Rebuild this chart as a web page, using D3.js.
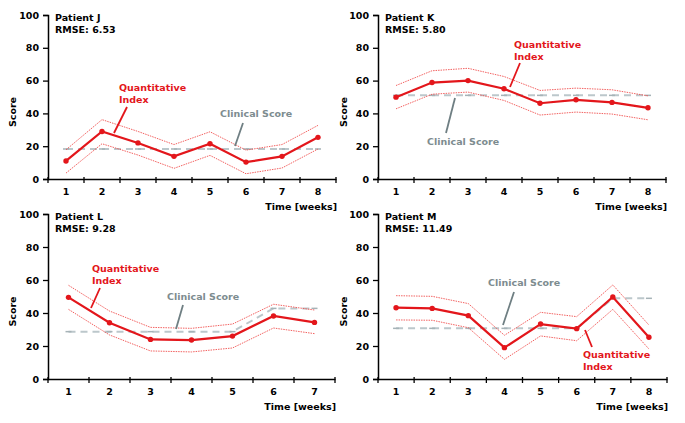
<!DOCTYPE html>
<html>
<head>
<meta charset="utf-8">
<script src="https://cdn.jsdelivr.net/npm/d3@7"></script>
<style>
  html, body { margin: 0; padding: 0; background: #fff; }
  svg { display: block; }
  text { font-family: "DejaVu Sans", Verdana, sans-serif; font-weight: bold; }
</style>
</head>
<body>
<svg id="chart" width="685" height="423"></svg>
<script>
// ---------- DATA ----------
const yTicks = [0, 20, 40, 60, 80, 100];
const weeks8 = ["1", "2", "3", "4", "5", "6", "7", "8"];
const weeks7 = ["1", "2", "3", "4", "5", "6", "7"];

const titles = ["Patient J", "Patient K", "Patient L", "Patient M"];
const rmse = ["RMSE: 6.53", "RMSE: 5.80", "RMSE: 9.28", "RMSE: 11.49"];

const qiJ = [11, 29, 22, 13.8, 21.5, 10.3, 13.8, 25.4];
const upJ = [17.8, 36.2, 29, 21, 28.8, 17.6, 21, 32.7];
const loJ = [3.6, 21.5, 14.6, 6.5, 14.4, 3.2, 6.7, 18.3];
const csJ = [18.3, 18.3, 18.3, 18.3, 18.3, 18.3, 18.3, 18.3];

const qiK = [49.9, 58.8, 60, 55, 46.2, 48.3, 46.7, 43.4];
const upK = [57, 66, 67.5, 62.5, 54, 55.4, 54.4, 50.7];
const loK = [42.8, 51.7, 53, 47.9, 39, 40.8, 39.6, 36.1];
const csK = [51, 51, 51, 51, 51, 51, 51, 51];

const qiL = [49.5, 34.1, 24, 23.6, 26, 38.2, 34.3];
const upL = [56.8, 41.2, 31.3, 30.7, 33.3, 45.3, 41.8];
const loL = [42.2, 26.7, 17, 16.4, 18.8, 30.9, 27.5];
const csL = [28.7, 28.7, 28.7, 28.7, 28.7, 42.8, 42.8];

const qiM = [43.2, 42.8, 38.4, 19, 33.3, 30.5, 49.7, 25.3];
const upM = [50.5, 50.1, 45.7, 26.5, 40.4, 37.8, 57, 32.7];
const loM = [35.8, 35.6, 31.1, 11.9, 26.1, 23.2, 42.2, 18.2];
const csM = [30.7, 30.7, 30.7, 30.7, 30.7, 30.7, 48.9, 48.9];

// ---------- LAYOUT ----------
const RED = "#e3161b";
const GRAY_TXT = "#7d8c90";
const GRAY_LINE = "#bcc7cb";
const FS = 9.5;

const panels = [
  { cats: weeks8, qi: qiJ, up: upJ, lo: loJ, cs: csJ, x0: 48, x1: 336, yT: 15, yB: 179, scoreX: 13,
    qiText: [119, 87], qiLead: [[114, 133], [127, 107]],
    csText: [220, 113], csLead: [[243, 123], [235, 146]] },
  { cats: weeks8, qi: qiK, up: upK, lo: loK, cs: csK, x0: 378, x1: 666, yT: 15, yB: 179, scoreX: 344,
    qiText: [514, 44], qiLead: [[520, 63], [510, 87]],
    csText: [427, 141], csLead: [[446, 133], [455, 98]] },
  { cats: weeks7, qi: qiL, up: upL, lo: loL, cs: csL, x0: 48, x1: 335, yT: 214, yB: 379, scoreX: 13,
    qiText: [92, 268], qiLead: [[91, 308], [100, 288]],
    csText: [167, 296], csLead: [[183, 305], [176, 329]] },
  { cats: weeks8, qi: qiM, up: upM, lo: loM, cs: csM, x0: 378, x1: 667, yT: 214, yB: 379, scoreX: 344,
    qiText: [583, 354], qiLead: [[592, 347], [585, 330]],
    csText: [488, 282], csLead: [[514, 292], [503, 325]] }
];

const svg = d3.select("#chart");

panels.forEach((p, i) => {
  const x = d3.scaleBand().domain(p.cats).range([p.x0, p.x1]);
  const y = d3.scaleLinear().domain([0, 100]).range([p.yB, p.yT]);
  const cx = d => x(d) + x.bandwidth() / 2;
  const g = svg.append("g");

  // y axis
  const ya = g.append("g").attr("transform", `translate(${p.x0},0)`)
    .call(d3.axisLeft(y).tickValues(yTicks).tickSize(5).tickPadding(4));
  ya.select(".domain").attr("stroke", "#000").attr("stroke-width", 1.5);
  ya.selectAll(".tick line").attr("stroke", "#000").attr("stroke-width", 1.3);
  ya.selectAll(".tick text").attr("font-size", FS).attr("font-weight", "bold")
    .attr("font-family", "DejaVu Sans").attr("fill", "#000");

  // x axis
  const xa = g.append("g").attr("transform", `translate(0,${p.yB})`)
    .call(d3.axisBottom(x).tickSize(0).tickPadding(9));
  xa.select(".domain").attr("stroke", "#000").attr("stroke-width", 1.5);
  xa.selectAll(".tick text").attr("font-size", FS).attr("font-weight", "bold")
    .attr("font-family", "DejaVu Sans").attr("fill", "#000");
  // band boundary ticks
  const bounds = p.cats.map(c => x(c)).concat([p.x1]);
  g.selectAll(".bt").data(bounds).enter().append("line")
    .attr("x1", d => d).attr("x2", d => d)
    .attr("y1", p.yB - 2).attr("y2", p.yB + 4)
    .attr("stroke", "#000").attr("stroke-width", 1.3);

  // axis titles
  g.append("text").attr("x", p.x1 + 1).attr("y", p.yB + 31)
    .attr("text-anchor", "end").attr("font-size", FS).text("Time [weeks]");
  g.append("text").attr("transform", `translate(${p.scoreX + 3},${(p.yT + p.yB) / 2 + 15}) rotate(-90)`)
    .attr("text-anchor", "middle").attr("font-size", FS).text("Score");

  // title
  g.append("text").attr("x", p.x0 + 7).attr("y", p.yT + 6).attr("font-size", FS).text(titles[i]);
  g.append("text").attr("x", p.x0 + 7).attr("y", p.yT + 18).attr("font-size", FS).text(rmse[i]);

  const line = vals => d3.line().x((d, j) => cx(p.cats[j])).y(d => y(d))(vals);

  // clinical score
  g.append("path").attr("d", line(p.cs)).attr("fill", "none")
    .attr("stroke", GRAY_LINE).attr("stroke-width", 2).attr("stroke-dasharray", "7,5");
  g.selectAll(".cm").data(p.cs).enter().append("line")
    .attr("x1", (d, j) => cx(p.cats[j]) - 3).attr("x2", (d, j) => cx(p.cats[j]) + 3)
    .attr("y1", d => y(d)).attr("y2", d => y(d))
    .attr("stroke", "#a6b3b7").attr("stroke-width", 1.5);

  // bands
  [p.up, p.lo].forEach(vals => {
    g.append("path").attr("d", line(vals)).attr("fill", "none")
      .attr("stroke", "#f0504f").attr("stroke-width", 0.9).attr("stroke-dasharray", "1.5,1");
  });

  // quantitative index
  g.append("path").attr("d", line(p.qi)).attr("fill", "none")
    .attr("stroke", RED).attr("stroke-width", 2.2);
  g.selectAll(".qm").data(p.qi).enter().append("circle")
    .attr("cx", (d, j) => cx(p.cats[j])).attr("cy", d => y(d)).attr("r", 2.7).attr("fill", RED);

  // annotations
  const qt = g.append("text").attr("x", p.qiText[0]).attr("y", p.qiText[1] + 4)
    .attr("font-size", FS).attr("fill", RED);
  qt.append("tspan").attr("x", p.qiText[0]).text("Quantitative");
  qt.append("tspan").attr("x", p.qiText[0]).attr("dy", 12).text("Index");
  g.append("line").attr("x1", p.qiLead[0][0]).attr("y1", p.qiLead[0][1])
    .attr("x2", p.qiLead[1][0]).attr("y2", p.qiLead[1][1])
    .attr("stroke", RED).attr("stroke-width", 1.8);

  g.append("text").attr("x", p.csText[0]).attr("y", p.csText[1] + 4)
    .attr("font-size", FS).attr("fill", GRAY_TXT).text("Clinical Score");
  g.append("line").attr("x1", p.csLead[0][0]).attr("y1", p.csLead[0][1])
    .attr("x2", p.csLead[1][0]).attr("y2", p.csLead[1][1])
    .attr("stroke", "#6f7f83").attr("stroke-width", 1.8);
});
</script>
</body>
</html>
